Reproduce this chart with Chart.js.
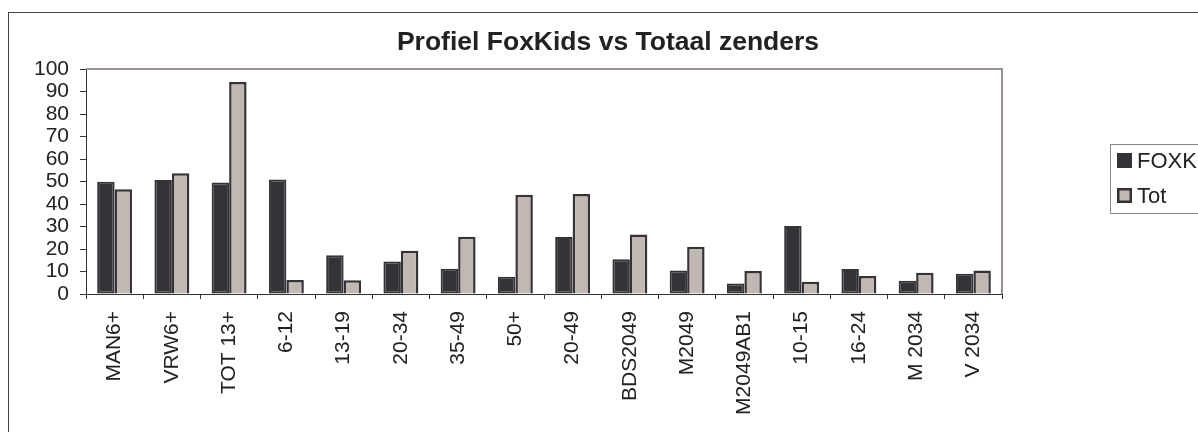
<!DOCTYPE html>
<html>
<head>
<meta charset="utf-8">
<script src="https://cdn.jsdelivr.net/npm/chart.js@4/dist/chart.umd.min.js"></script>
<style>
    html, body { margin: 0; padding: 0; background: #fff; overflow: hidden; }
    #frame {
        position: absolute;
        left: 8px;
        top: 12px;
        border-left: 1px solid #444;
        border-top: 1px solid #444;
        width: 1198px;
        height: 419px;
    }
    canvas { display: block; }
</style>
</head>
<body>
<div id="frame"><canvas id="profielChart" width="1198" height="419"></canvas></div>
<script>
const categories = ["MAN6+", "VRW6+", "TOT 13+", "6-12", "13-19", "20-34", "35-49", "50+", "20-49", "BDS2049", "M2049", "M2049AB1", "10-15", "16-24", "M 2034", "V 2034"];
const foxKidsValues = [49.9, 50.7, 49.6, 50.9, 17.2, 14.5, 11.2, 7.7, 25.3, 15.4, 10.5, 4.7, 30.2, 11.1, 5.9, 9.0];
const totaalValues = [46.6, 53.7, 94.2, 6.2, 6.1, 19.2, 25.4, 44.1, 44.5, 26.5, 21.0, 10.2, 5.5, 8.0, 9.5, 10.5];
const yTicks = [0, 10, 20, 30, 40, 50, 60, 70, 80, 90, 100];

const fontFamily = "'Liberation Sans', Arial, sans-serif";
const textColor = "#222";

// top + right plot-area border, Excel style
const plotBorder = {
    id: "plotBorder",
    beforeDatasetsDraw(chart) {
        const { ctx, chartArea } = chart;
        ctx.save();
        ctx.strokeStyle = "#9c918c";
        ctx.lineWidth = 2;
        ctx.beginPath();
        ctx.moveTo(chartArea.left, chartArea.top);
        ctx.lineTo(chartArea.right, chartArea.top);
        ctx.lineTo(chartArea.right, chartArea.bottom);
        ctx.stroke();
        ctx.restore();
    }
};

// boxed legend on the right
const boxLegend = {
    id: "boxLegend",
    afterDraw(chart) {
        const { ctx } = chart;
        const x = 1101, y = 131;
        ctx.save();
        ctx.strokeStyle = "#888";
        ctx.lineWidth = 1;
        ctx.strokeRect(x + 0.5, y + 0.5, 200, 69);
        ctx.font = "22px " + fontFamily;
        ctx.textBaseline = "middle";
        chart.data.datasets.forEach((ds, i) => {
            const sy = y + 9 + i * 35;
            ctx.fillStyle = ds.borderColor;
            ctx.fillRect(x + 7, sy, 15, 15);
            ctx.fillStyle = ds.backgroundColor;
            ctx.fillRect(x + 9.5, sy + 2.5, 10, 10);
            ctx.fillStyle = textColor;
            ctx.fillText(ds.label, x + 27, sy + 8.5);
        });
        ctx.restore();
    }
};

new Chart(document.getElementById("profielChart"), {
    type: "bar",
    data: {
        labels: categories,
        datasets: [
            {
                label: "FOXKids",
                data: foxKidsValues,
                backgroundColor: "#353337",
                borderColor: "#353337",
                borderWidth: 2,
                borderSkipped: false
            },
            {
                label: "Tot",
                data: totaalValues,
                backgroundColor: "#c1b8b4",
                borderColor: "#353337",
                borderWidth: 2.5,
                borderSkipped: "bottom"
            }
        ]
    },
    options: {
        responsive: false,
        animation: false,
        categoryPercentage: 0.61,
        barPercentage: 1.0,
        plugins: {
            legend: { display: false },
            tooltip: { enabled: false },
            title: {
                display: true,
                text: "Profiel FoxKids vs Totaal zenders",
                color: textColor,
                font: { family: fontFamily, size: 26.5, weight: "bold", lineHeight: 1.2 },
                padding: { top: 14, bottom: 10.2 }
            }
        },
        scales: {
            x: {
                grid: { drawOnChartArea: false, tickLength: 5, color: "#333", offset: true },
                border: { color: "#333", width: 1 },
                ticks: {
                    color: textColor,
                    font: { family: fontFamily, size: 21 },
                    maxRotation: 90,
                    minRotation: 90,
                    autoSkip: false,
                    padding: 12
                },
                afterFit(scale) { scale.height = 138; }
            },
            y: {
                min: 0,
                max: 100,
                afterBuildTicks(scale) { scale.ticks = yTicks.map(v => ({ value: v })); },
                grid: { drawOnChartArea: false, tickLength: 6, color: "#333" },
                border: { color: "#333", width: 1 },
                ticks: {
                    color: textColor,
                    font: { family: fontFamily, size: 21 },
                    autoSkip: false,
                    padding: 11
                },
                afterFit(scale) { scale.width = 77; }
            },
            // empty axis that keeps room for the legend on the right
            yRoom: {
                position: "right",
                grid: { display: false },
                border: { display: false },
                ticks: { display: false },
                afterFit(scale) { scale.width = 205; }
            }
        }
    },
    plugins: [plotBorder, boxLegend]
});
</script>
</body>
</html>
